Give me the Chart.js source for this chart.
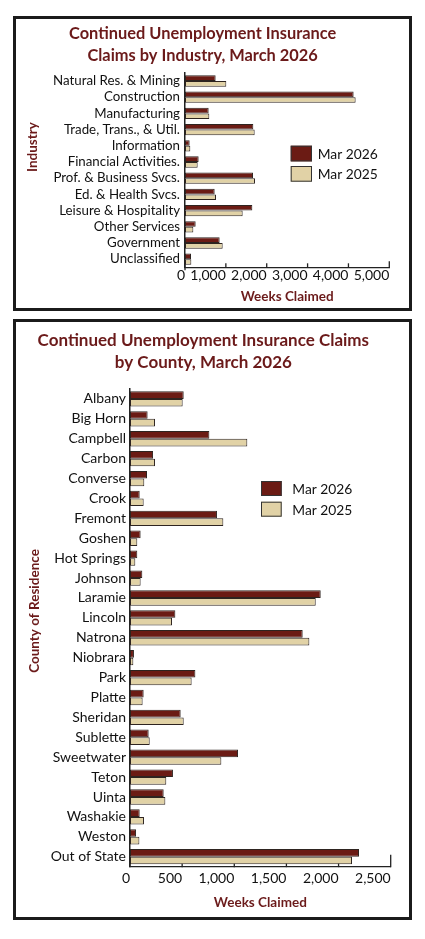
<!DOCTYPE html>
<html>
<head>
<meta charset="utf-8">
<title>Continued Unemployment Insurance Claims, March 2026</title>
<script src="https://cdn.jsdelivr.net/npm/chart.js@4.4.1/dist/chart.umd.min.js"></script>
<style>
  html, body { margin: 0; padding: 0; background: #fff; }
  body { width: 425px; height: 939px; position: relative; overflow: hidden; }
  .panel { position: absolute; left: 13px; width: 399px; box-sizing: border-box; border: 3px solid #1b1b1b; background: #fff; }
  #panelIndustry { top: 16px; height: 295px; }
  #panelCounty { top: 319px; height: 601px; }
  .panel > div { position: relative; width: 100%; height: 100%; }
</style>
</head>
<body>
<div class="panel" id="panelIndustry"><div><canvas id="industryChart"></canvas></div></div>
<div class="panel" id="panelCounty"><div><canvas id="countyChart"></canvas></div></div>
<script>
// ---- data ----
const industries = [
  "Natural Res. & Mining", "Construction", "Manufacturing", "Trade, Trans., & Util.",
  "Information", "Financial Activities.", "Prof. & Business Svcs.", "Ed. & Health Svcs.",
  "Leisure & Hospitality", "Other Services", "Government", "Unclassified"
];
const industryMar2026 = [750, 4127, 579, 1672, 114, 334, 1664, 726, 1648, 261, 848, 147];
const industryMar2025 = [1011, 4176, 595, 1705, 130, 310, 1713, 759, 1411, 204, 922, 155];

const counties = [
  "Albany", "Big Horn", "Campbell", "Carbon", "Converse", "Crook", "Fremont", "Goshen",
  "Hot Springs", "Johnson", "Laramie", "Lincoln", "Natrona", "Niobrara", "Park", "Platte",
  "Sheridan", "Sublette", "Sweetwater", "Teton", "Uinta", "Washakie", "Weston", "Out of State"
];
const countyMar2026 = [515, 169, 761, 221, 163, 93, 834, 102, 70, 118, 1829, 435,
                       1656, 38, 627, 131, 486, 179, 1036, 412, 323, 93, 58, 2196];
const countyMar2025 = [505, 240, 1125, 240, 137, 131, 895, 70, 51, 102, 1781, 403,
                       1720, 32, 591, 121, 515, 189, 876, 348, 339, 134, 90, 2129];

const seriesLabels = ["Mar 2026", "Mar 2025"];
const industryTicks = { max: 5000, step: 1000 };
const countyTicks = { max: 2500, step: 500 };

// ---- styling ----
const FONT = "Lato";
const MAROON = "#6b1a1a";
const BAR_2026 = "#6b1b14";
const BAR_2025 = "#e1d2a6";
const AXIS = "#222";

// tick marks pointing up, rotated y title, legend inside the plot
const panelDecor = {
  id: "panelDecor",
  afterDraw(chart, args, o) {
    const ctx = chart.ctx;
    const x = chart.scales.x;
    ctx.save();
    ctx.strokeStyle = AXIS;
    ctx.lineWidth = 1.3;
    x.ticks.forEach((t, i) => {
      const px = x.getPixelForValue(t.value);
      const len = i === x.ticks.length - 1 ? o.lastTick : o.tick;
      ctx.beginPath();
      ctx.moveTo(px, x.top + 0.5);
      ctx.lineTo(px, x.top - len);
      ctx.stroke();
    });
    if (o.originDrop) {
      const px = x.getPixelForValue(0);
      ctx.beginPath();
      ctx.moveTo(px, x.top);
      ctx.lineTo(px, x.top + o.originDrop);
      ctx.stroke();
    }

    ctx.fillStyle = MAROON;
    ctx.font = "bold " + o.titleSize + "px " + FONT;
    ctx.textAlign = "center";
    ctx.textBaseline = "middle";
    ctx.translate(o.titleX, o.titleY);
    ctx.rotate(-Math.PI / 2);
    ctx.fillText(o.title, 0, 0);
    ctx.restore();

    ctx.save();
    ctx.font = o.legendSize + "px " + FONT;
    ctx.textBaseline = "middle";
    chart.data.datasets.forEach((ds, i) => {
      const top = o.legendY + i * o.legendGap;
      ctx.fillStyle = ds.backgroundColor;
      ctx.fillRect(o.legendX, top, o.boxW, o.boxH);
      ctx.strokeStyle = "#333";
      ctx.lineWidth = 1;
      ctx.strokeRect(o.legendX + 0.5, top + 0.5, o.boxW - 1, o.boxH - 1);
      ctx.fillStyle = "#111";
      ctx.fillText(ds.label, o.textX, top + o.boxH / 2 + 1);
    });
    ctx.restore();
  }
};

function makeChart(id, labels, v2026, v2025, ticks, cfg) {
  return new Chart(document.getElementById(id), {
    type: "bar",
    data: {
      labels: labels,
      datasets: [
        { label: seriesLabels[0], data: v2026, backgroundColor: BAR_2026 },
        { label: seriesLabels[1], data: v2025, backgroundColor: BAR_2025 }
      ]
    },
    options: {
      indexAxis: "y",
      responsive: true,
      maintainAspectRatio: false,
      animation: false,
      events: [],
      layout: { padding: { left: 0, right: cfg.padRight, top: 0, bottom: 0 } },
      datasets: {
        bar: {
          categoryPercentage: cfg.catPct,
          barPercentage: 1,
          borderWidth: 1,
          borderColor: "#2e2420",
          borderSkipped: false
        }
      },
      scales: {
        x: {
          min: 0,
          max: ticks.max,
          grid: { display: false, drawTicks: false },
          border: { display: true, color: AXIS, width: 1.3 },
          afterFit: s => { s.height = cfg.xHeight; },
          ticks: {
            stepSize: ticks.step,
            align: "end",
            maxRotation: 0,
            minRotation: 0,
            padding: cfg.tickPad,
            color: "#111",
            font: { family: FONT, size: 14, lineHeight: 1.2 }
          },
          title: {
            display: true,
            text: "Weeks Claimed",
            color: MAROON,
            padding: { top: 0, bottom: cfg.xTitlePad },
            font: { family: FONT, size: 13.5, weight: "bold", lineHeight: 1.2 }
          }
        },
        y: {
          grid: { display: false, drawTicks: false },
          border: { display: true, color: AXIS, width: 1.5 },
          afterFit: s => { s.width = cfg.yWidth; },
          ticks: {
            padding: cfg.yPad,
            color: "#111",
            autoSkip: false,
            font: { family: FONT, size: cfg.labelSize }
          }
        }
      },
      plugins: {
        legend: { display: false },
        tooltip: { enabled: false },
        title: {
          display: true,
          text: cfg.title,
          color: MAROON,
          padding: { top: cfg.titleTop, bottom: cfg.titleBottom },
          font: { family: FONT, size: cfg.titleSize, weight: "bold", lineHeight: 22 / cfg.titleSize }
        },
        panelDecor: cfg.decor
      }
    },
    plugins: [panelDecor]
  });
}

makeChart("industryChart", industries, industryMar2026, industryMar2025, industryTicks, {
  title: ["Continued Unemployment Insurance", "Claims by Industry, March 2026"],
  titleSize: 16.4, titleTop: 4, titleBottom: 5.9,
  padRight: 19.7, yWidth: 169, yPad: 5, xHeight: 40.7, tickPad: 0, xTitlePad: 3,
  catPct: 0.70, labelSize: 13.3,
  decor: {
    tick: 4, lastTick: 6, originDrop: 3,
    title: "Industry", titleSize: 13.5, titleX: 17, titleY: 128,
    legendX: 274.7, legendY: 126.7, legendGap: 20.3, boxW: 21.3, boxH: 15.7,
    textX: 301.7, legendSize: 13.8
  }
});

makeChart("countyChart", counties, countyMar2026, countyMar2025, countyTicks, {
  title: ["Continued Unemployment Insurance Claims", "by County, March 2026"],
  titleSize: 17, titleTop: 8, titleBottom: 15,
  padRight: 18.3, yWidth: 114, yPad: 4, xHeight: 50.35, tickPad: 3.5, xTitlePad: 6.3,
  catPct: 0.77, labelSize: 14,
  decor: {
    tick: 3, lastTick: 12, originDrop: 0,
    title: "County of Residence", titleSize: 13.5, titleX: 19, titleY: 289,
    legendX: 245, legendY: 159, legendGap: 20.7, boxW: 20.7, boxH: 15,
    textX: 276.3, legendSize: 13.8
  }
});
</script>
</body>
</html>
